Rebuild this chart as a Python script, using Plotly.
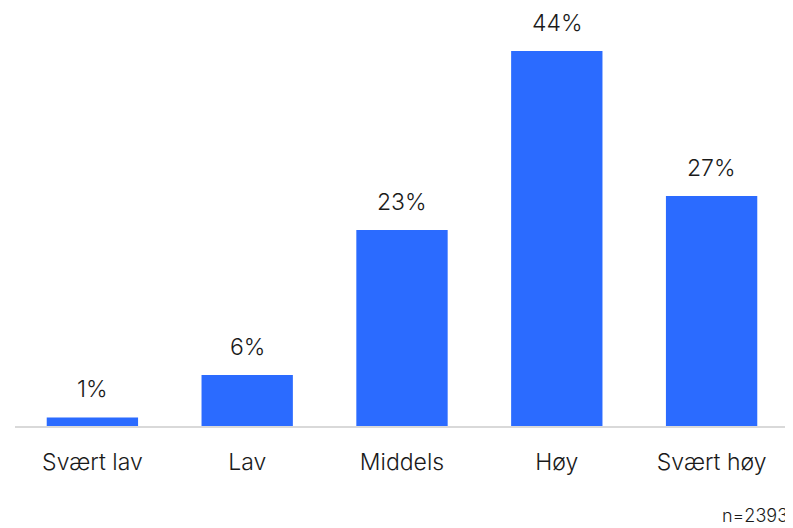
import plotly.graph_objects as go

categories = ["Svært lav", "Lav", "Middels", "Høy", "Svært høy"]
values = [1, 6, 23, 44, 27]
labels = [f"{v}%" for v in values]
note = "n=2393"

FONT = "Inter, Roboto, sans-serif"
BAR = "#2b6bff"
TXT = "#1a1a1a"
W = 300

fig = go.Figure(go.Bar(x=categories, y=values, marker_color=BAR, marker_line_width=0,
                       width=0.59, hoverinfo="skip"))

for c, v, t in zip(categories, values, labels):
    fig.add_annotation(x=c, y=v, text=t, showarrow=False, yanchor="bottom", yshift=12,
                       font=dict(family=FONT, size=23, color=TXT, weight=W))

fig.add_annotation(x=1, y=0, xref="paper", yref="paper", text=note, showarrow=False,
                   xanchor="right", yanchor="middle", yshift=-89, xshift=1,
                   font=dict(family=FONT, size=18, color=TXT, weight=W))

fig.update_layout(
    width=793, height=528,
    margin=dict(l=7, r=12, t=0, b=110),
    paper_bgcolor="white", plot_bgcolor="white",
    showlegend=False,
    font=dict(family=FONT, size=23, color=TXT, weight=W),
    xaxis=dict(showline=True, linecolor="#d9d9d9", linewidth=2, ticks="",
               ticklabelstandoff=14,
               tickfont=dict(size=23, family=FONT, color=TXT, weight=W),
               range=[-0.5, 4.5]),
    yaxis=dict(range=[0, 49.06], visible=False, showgrid=False),
)

fig.write_html("out.html")
